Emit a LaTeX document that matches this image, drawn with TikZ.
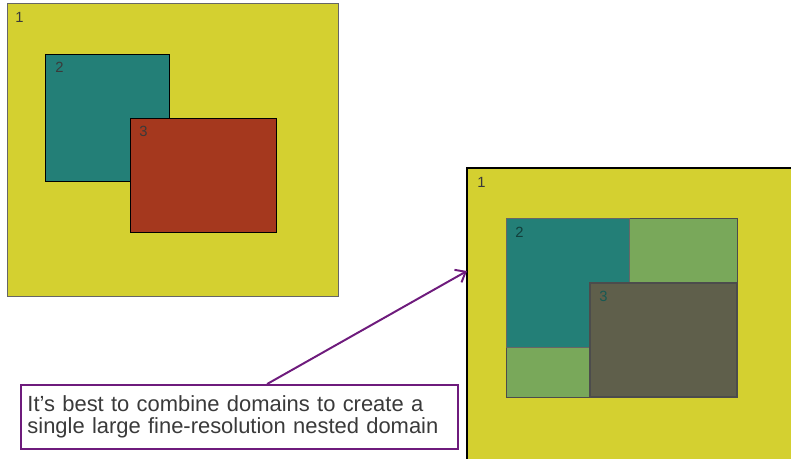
\documentclass[tikz,border=0pt]{standalone}
\usepackage{fontspec}
\setmainfont{Liberation Sans}
\usetikzlibrary{calc,arrows.meta}

\definecolor{domyellow}{HTML}{D4D030}
\definecolor{domteal}{HTML}{237F77}
\definecolor{domred}{HTML}{A5381E}
\definecolor{domgreen}{HTML}{79A85A}
\definecolor{domdark}{HTML}{5F5F4B}
\definecolor{notepurple}{HTML}{6E1B7C}
\definecolor{textgray}{HTML}{3A3A3A}

\begin{document}
\begin{tikzpicture}[x=0.025cm,y=-0.025cm,
  lbl/.style={anchor=north west,inner sep=0pt,font=\fontsize{10.5}{12}\selectfont}]
\useasboundingbox (0,0) rectangle (791,459);
\clip (0,0) rectangle (791,459);

% separate domains
\draw[fill=domyellow,draw=gray!80!black,line width=0.7pt] (7,3) rectangle (338,296);
\draw[fill=domteal,line width=0.7pt] (45,54) rectangle (169,181);
\draw[fill=domred,line width=0.7pt] (130,118) rectangle (276,232);
\path (15,12) node[lbl,textgray] (L1) {1};
\path (55,62) node[lbl,textgray] (L2) {2};
\path (139,126) node[lbl,textgray] (L3) {3};

% combined domain
\draw[fill=domyellow,line width=0.8pt] (467,168) rectangle (800,470);
\draw[fill=domgreen,draw=black!70,line width=0.7pt] (506,218) rectangle (737,397);
\draw[fill=domteal,draw=black!60,line width=0.7pt] (506,218) rectangle (629,347);
\draw[fill=domdark,draw=black!70,line width=0.8pt] (590,283) rectangle (737,397);
\path (477,177) node[lbl,textgray] (R1) {1};
\path (515,227) node[lbl,black!50!domteal] (R2) {2};
\path (599,291) node[lbl,domteal!70!black] (R3) {3};

% note
\path (20,384) node[anchor=north west,draw=notepurple,line width=1.3pt,fill=white,
  minimum width=10.925cm,minimum height=1.6cm,inner xsep=0.15cm,
  text width=10.6cm,align=left,text=textgray,
  font=\fontsize{15.6}{15.8}\selectfont] (T)
  {It’s best to combine domains to create a\\single large fine-resolution nested domain};
\coordinate (C) at (467,271);

\path[notepurple,line width=1.4pt,-{Straight Barb[length=2.2mm,width=3.6mm]}]
  ($(T.north west)!0.563!(T.north east)$) edge (C);
\end{tikzpicture}
\end{document}
